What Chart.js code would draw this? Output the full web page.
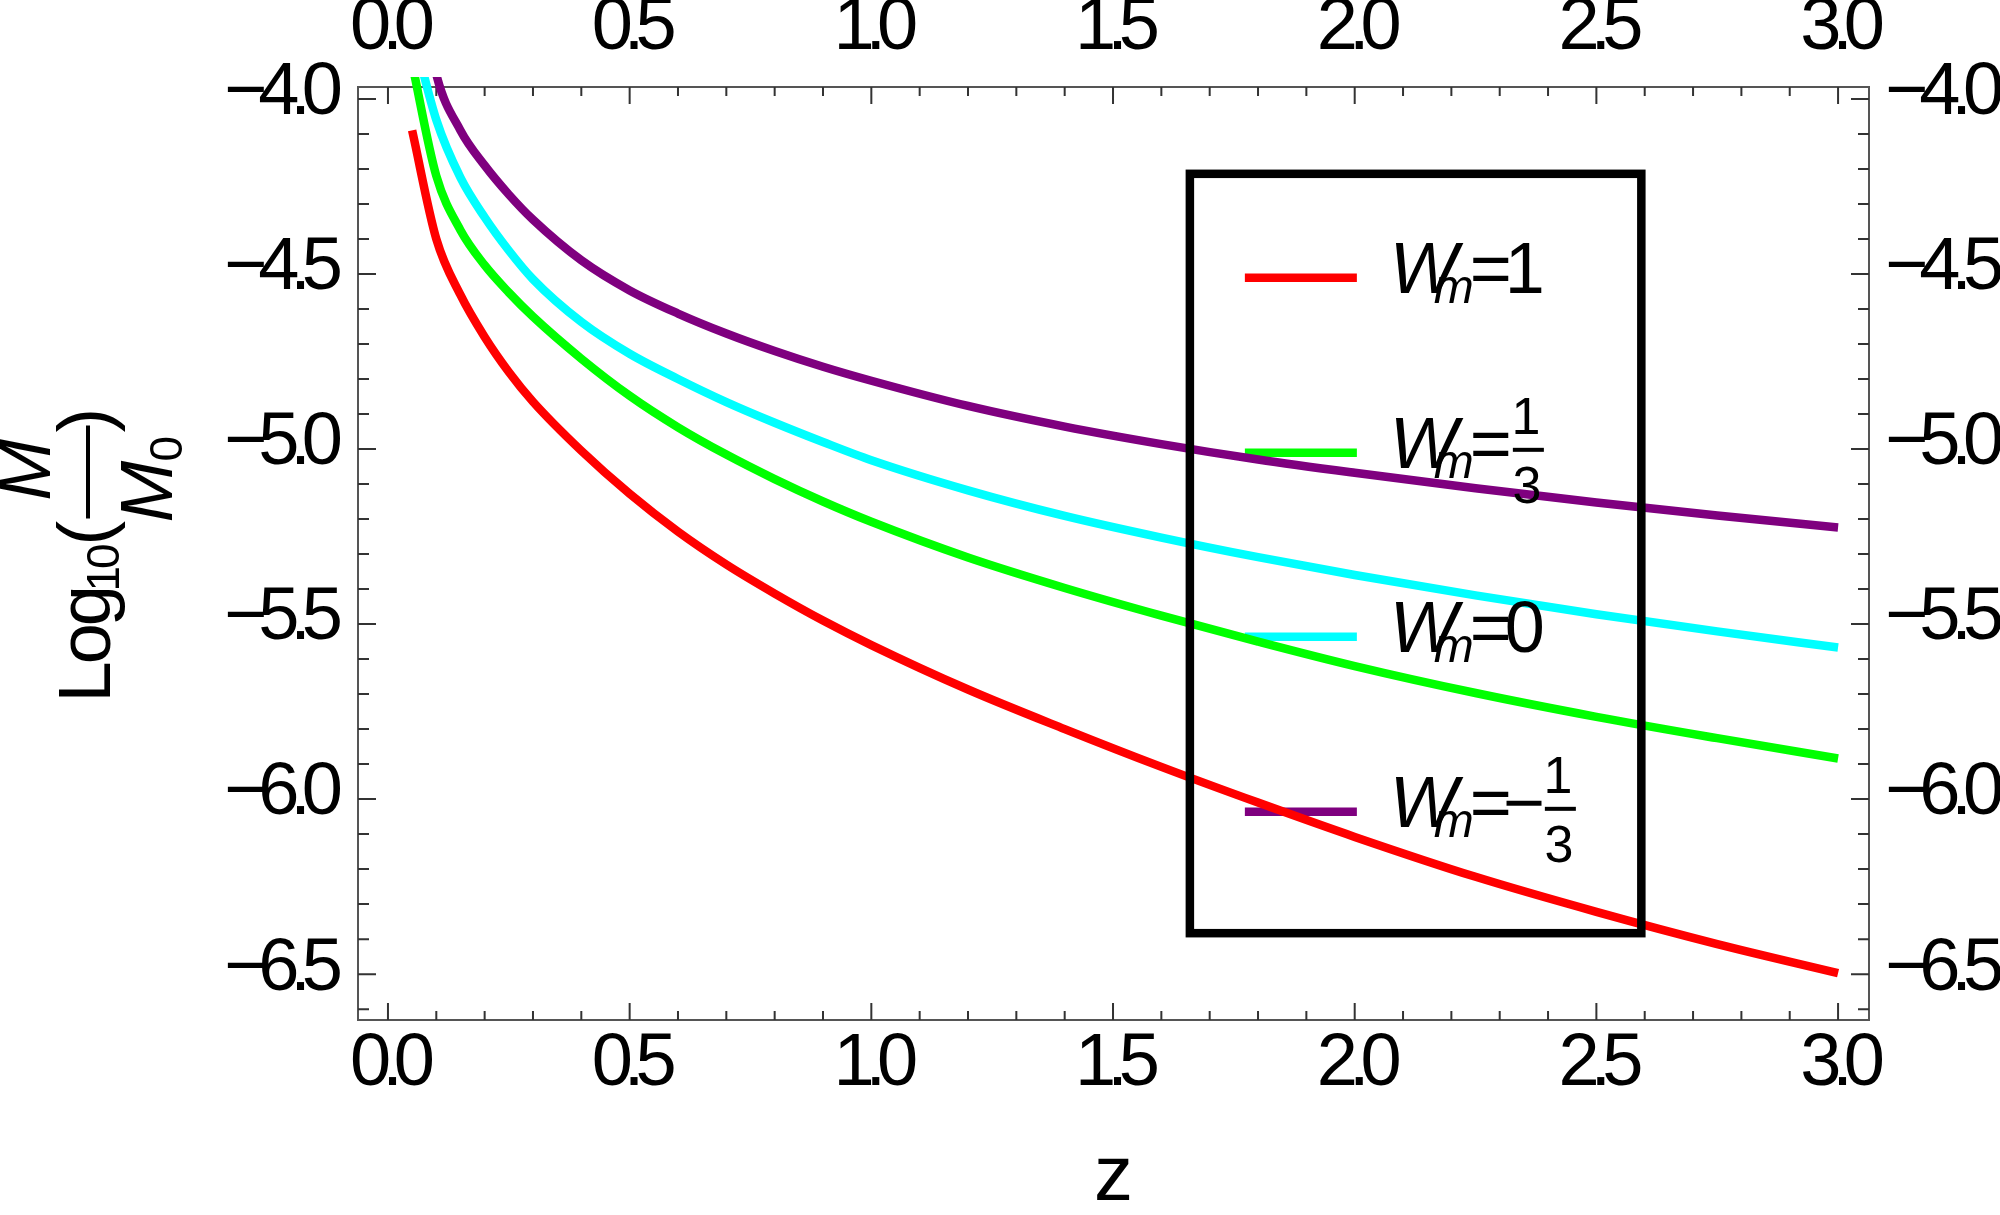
<!DOCTYPE html>
<html>
<head>
<meta charset="utf-8">
<script src="https://cdn.jsdelivr.net/npm/chart.js@4.4.1/dist/chart.umd.min.js"></script>
<style>
  html, body { margin: 0; padding: 0; background: #fff; }
  #wrap { width: 2000px; height: 1215px; }
</style>
</head>
<body>
<div id="wrap"><canvas id="chart" width="2000" height="1215"></canvas></div>
<script>
// redshift samples
const zValues = [0.05, 0.1, 0.15, 0.2, 0.25, 0.3, 0.4, 0.5, 0.6, 0.7, 0.8, 0.9, 1.0,
  1.2, 1.4, 1.6, 1.8, 2.0, 2.25, 2.5, 2.75, 3.0];

// log10(M/M0) for each w_m
const massW1 = [-4.09, -4.40, -4.56, -4.68, -4.78, -4.865, -5.005, -5.128, -5.236, -5.33, -5.413, -5.49, -5.56,
  -5.687, -5.8, -5.908, -6.01, -6.108, -6.222, -6.322, -6.414, -6.497];
const massWThird = [-3.9, -4.22, -4.375, -4.475, -4.553, -4.622, -4.742, -4.848, -4.938, -5.016, -5.086, -5.15, -5.208,
  -5.31, -5.397, -5.476, -5.55, -5.62, -5.697, -5.765, -5.826, -5.884];
const massW0 = [-3.80, -4.06, -4.225, -4.338, -4.433, -4.515, -4.637, -4.728, -4.8, -4.866, -4.925, -4.98, -5.032,
  -5.118, -5.191, -5.253, -5.309, -5.36, -5.418, -5.472, -5.521, -5.567];
const massWMinusThird = [-3.55, -3.93, -4.09, -4.19, -4.273, -4.345, -4.461, -4.547, -4.613, -4.67, -4.72, -4.765, -4.805,
  -4.877, -4.936, -4.986, -5.03, -5.068, -5.112, -5.153, -5.19, -5.224];

const seriesData = [massW1, massWThird, massW0, massWMinusThird];
const seriesColors = ['#ff0000', '#00ff00', '#00ffff', '#7f007f'];

// legend values: sign, numerator, denominator
const legendSigns = ['', '', '', '\u2212'];
const legendNums = ['1', '1', '0', '1'];
const legendDens = ['', '3', '', '3'];

const xTicks = [0, 0.5, 1.0, 1.5, 2.0, 2.5, 3.0];
const yTicks = [-6.5, -6.0, -5.5, -5.0, -4.5, -4.0];

const fam = '"Liberation Sans", Arial, Helvetica, sans-serif';
const tickFont = { family: fam, size: 74, lineHeight: 1 };

function tickText(v) {
  return v.toFixed(1).replace('-', '\u2212');
}

function fixTicks(values) {
  return function (scale) {
    scale.ticks = values.map(v => ({ value: v }));
  };
}

function xAxis(pos, size, pad) {
  return {
    type: 'linear', position: pos, min: -0.062, max: 3.064,
    grid: { display: false, drawTicks: false },
    border: { display: true, color: '#555', width: 2 },
    ticks: { font: tickFont, color: '#000', padding: pad, maxRotation: 0, autoSkip: false,
      callback: v => tickText(v) },
    afterBuildTicks: fixTicks(xTicks),
    afterFit: s => { s.height = size; }
  };
}

function yAxis(pos, size, pad) {
  return {
    type: 'linear', position: pos, min: -6.631, max: -3.966,
    grid: { display: false, drawTicks: false },
    border: { display: true, color: '#555', width: 2 },
    ticks: { font: tickFont, color: '#000', padding: pad, autoSkip: false, labelOffset: -5,
      callback: v => tickText(v) },
    afterBuildTicks: fixTicks(yTicks),
    afterFit: s => { s.width = size; }
  };
}

// tight digits like the original
const tightText = {
  id: 'tightText',
  beforeDraw(chart) { chart.ctx.letterSpacing = '-9px'; }
};

// ticks pointing into the frame, plus legend segments under the curves
const innerTicks = {
  id: 'innerTicks',
  beforeDatasetsDraw(chart) {
    const { ctx, chartArea: a, scales } = chart;
    ctx.save();
    ctx.strokeStyle = '#333';
    ctx.lineWidth = 2;
    ctx.beginPath();
    for (let i = 0; i <= 30; i++) {
      const x = scales.x.getPixelForValue(i / 10);
      const len = i % 5 === 0 ? 17 : 9;
      ctx.moveTo(x, a.bottom); ctx.lineTo(x, a.bottom - len);
      ctx.moveTo(x, a.top); ctx.lineTo(x, a.top + len);
    }
    for (let i = -66; i <= -40; i++) {
      const y = scales.y.getPixelForValue(i / 10);
      const len = i % 5 === 0 ? 18 : 11;
      ctx.moveTo(a.left, y); ctx.lineTo(a.left + len, y);
      ctx.moveTo(a.right, y); ctx.lineTo(a.right - len, y);
    }
    ctx.stroke();

    const box = legendRect(chart);
    ctx.lineWidth = 8.5;
    for (let i = 0; i < seriesColors.length; i++) {
      const y = box.top + rowOffsets[i];
      ctx.strokeStyle = seriesColors[i];
      ctx.beginPath();
      ctx.moveTo(box.left + 55, y);
      ctx.lineTo(box.left + 167, y);
      ctx.stroke();
    }
    ctx.restore();
  }
};

const rowOffsets = [104, 279, 463, 638];

function legendRect(chart) {
  const { x, y } = chart.scales;
  return {
    left: x.getPixelForValue(1.659), right: x.getPixelForValue(2.593),
    top: y.getPixelForValue(-4.214), bottom: y.getPixelForValue(-6.383)
  };
}

function drawLegendRow(ctx, left, y, i) {
  const b = y + 15;
  ctx.textAlign = 'left';
  ctx.font = 'italic 72px ' + fam;
  ctx.fillText('W', left + 200, b);
  ctx.font = 'italic 48px ' + fam;
  ctx.fillText('m', left + 244, b + 10);
  ctx.font = '72px ' + fam;
  ctx.fillText('=', left + 280, b);
  let vx = left + 315;
  if (legendSigns[i]) {
    ctx.fillText(legendSigns[i], vx - 2, b);
    vx += 32;
  }
  if (legendDens[i]) {
    const my = y - 3;
    ctx.fillRect(vx + 8, my - 2, 31, 4);
    ctx.font = '52px ' + fam;
    ctx.textAlign = 'center';
    ctx.fillText(legendNums[i], vx + 21, my - 16);
    ctx.fillText(legendDens[i], vx + 22, my + 53);
  } else {
    ctx.fillText(legendNums[i], vx, b);
  }
}

const overlay = {
  id: 'overlay',
  afterDraw(chart) {
    const { ctx, chartArea: a } = chart;
    ctx.save();
    ctx.letterSpacing = '0px';
    ctx.fillStyle = '#000';
    ctx.textBaseline = 'alphabetic';

    // legend frame and labels
    const box = legendRect(chart);
    ctx.strokeStyle = '#000';
    ctx.lineWidth = 8.5;
    ctx.strokeRect(box.left, box.top, box.right - box.left, box.bottom - box.top);
    for (let i = 0; i < seriesColors.length; i++) {
      drawLegendRow(ctx, box.left, box.top + rowOffsets[i], i);
    }

    // x title
    ctx.textAlign = 'center';
    ctx.font = '78px ' + fam;
    ctx.fillText('z', (a.left + a.right) / 2, 1200);

    // y title, rotated: Log10(M/M0)
    ctx.save();
    ctx.translate(110, (a.top + a.bottom) / 2 + 144);
    ctx.rotate(-Math.PI / 2);
    ctx.textAlign = 'left';
    ctx.letterSpacing = '-3px';
    ctx.font = '74px ' + fam;
    ctx.fillText('Log', -5, 0);
    ctx.font = '46px ' + fam;
    ctx.fillText('10', 106, 9);
    ctx.font = '74px ' + fam;
    ctx.fillText('(', 152, 0);
    ctx.fillRect(179, -24, 93, 4);
    ctx.font = 'italic 74px ' + fam;
    ctx.textAlign = 'center';
    ctx.fillText('M', 226, -60);
    ctx.textAlign = 'left';
    ctx.fillText('M', 175, 62);
    ctx.font = '46px ' + fam;
    ctx.fillText('0', 236, 72);
    ctx.font = '74px ' + fam;
    ctx.fillText(')', 265, 0);
    ctx.restore();

    ctx.restore();
  }
};

const datasets = seriesData.map((vals, i) => ({
  label: 'w' + i,
  data: zValues.map((z, k) => ({ x: z, y: vals[k] })),
  borderColor: seriesColors[i],
  borderWidth: 8.5,
  pointRadius: 0,
  fill: false,
  cubicInterpolationMode: 'monotone',
  clip: { left: 10, top: 10, right: 10, bottom: 10 }
}));

new Chart(document.getElementById('chart'), {
  type: 'line',
  data: { datasets },
  options: {
    responsive: false,
    animation: false,
    devicePixelRatio: 1,
    layout: { padding: 0, autoPadding: false },
    plugins: { legend: { display: false }, tooltip: { enabled: false } },
    scales: {
      x: xAxis('bottom', 195, 8),
      x2: xAxis('top', 87, 21),
      y: yAxis('left', 358, 24),
      y2: yAxis('right', 131, 16)
    }
  },
  plugins: [tightText, innerTicks, overlay]
});
</script>
</body>
</html>
